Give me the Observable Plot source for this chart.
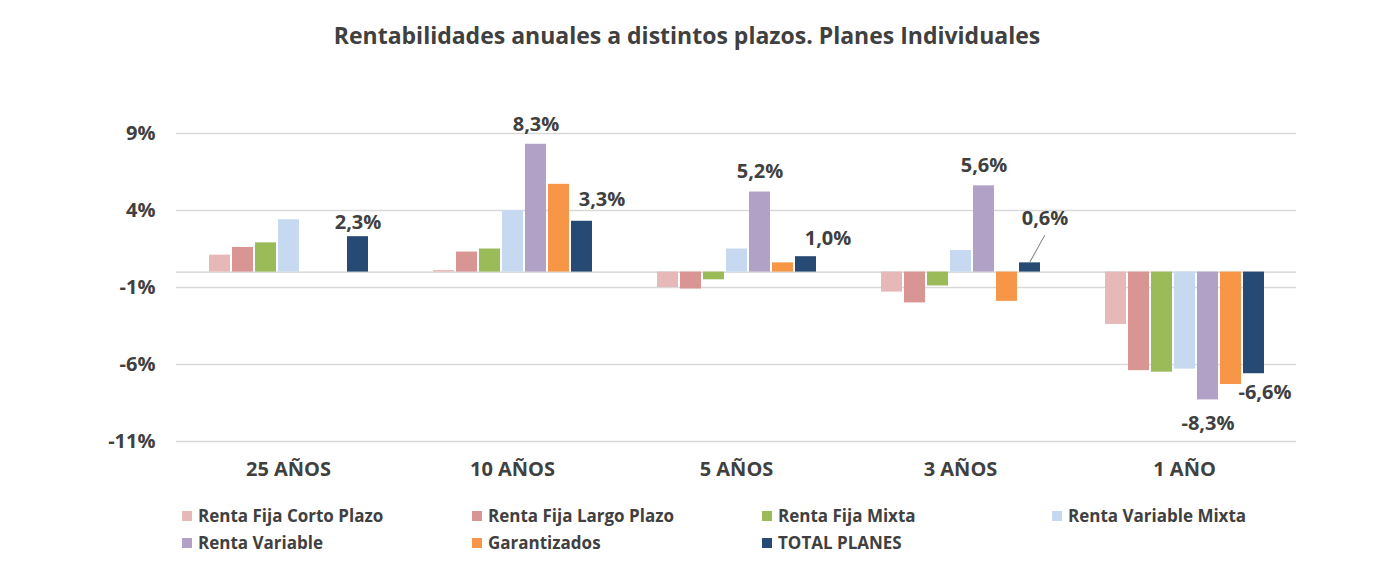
<!DOCTYPE html>
<html>
<head>
<meta charset="utf-8">
<script src="https://cdn.jsdelivr.net/npm/d3@7"></script>
<script src="https://cdn.jsdelivr.net/npm/@observablehq/plot@0.6"></script>
<style>
  html, body { margin: 0; padding: 0; background: #fff; }
  body { width: 1384px; height: 578px; overflow: hidden; font-family: "Open Sans", sans-serif; color: #404040; }
  #title { height: 70px; line-height: 70px; text-align: center; padding-right: 10px; font-size: 23px; font-weight: bold; color: #404040; }
  #chart svg text { font-family: "Open Sans", sans-serif; }
  #legend { display: grid; grid-template-columns: repeat(4, 290px); margin-left: 182px; margin-top: 6px; row-gap: 0; }
  .item { display: flex; align-items: center; height: 27px; font-size: 17px; font-weight: bold; color: #404040; }
  .sw { width: 10px; height: 10px; margin-right: 6px; flex: none; }
</style>
</head>
<body>
<div id="title">Rentabilidades anuales a distintos plazos. Planes Individuales</div>
<div id="chart"></div>
<div id="legend"></div>
<script>
const periods = ["25 AÑOS", "10 AÑOS", "5 AÑOS", "3 AÑOS", "1 AÑO"];
const seriesNames = ["Renta Fija Corto Plazo", "Renta Fija Largo Plazo", "Renta Fija Mixta", "Renta Variable Mixta", "Renta Variable", "Garantizados", "TOTAL PLANES"];
const rentaFijaCortoPlazo = [1.1, 0.1, -1.0, -1.3, -3.4];
const rentaFijaLargoPlazo = [1.6, 1.3, -1.1, -2.0, -6.4];
const rentaFijaMixta = [1.9, 1.5, -0.5, -0.9, -6.5];
const rentaVariableMixta = [3.4, 4.0, 1.5, 1.4, -6.3];
const rentaVariable = [null, 8.3, 5.2, 5.6, -8.3];
const garantizados = [null, 5.7, 0.6, -1.9, -7.3];
const totalPlanes = [2.3, 3.3, 1.0, 0.6, -6.6];
const colors = ["#e6b9b8", "#d99594", "#9bbb59", "#c6d9f1", "#b2a1c7", "#f79646", "#264a74"];
const yTicks = [-11, -6, -1, 4, 9];

const seriesValues = [rentaFijaCortoPlazo, rentaFijaLargoPlazo, rentaFijaMixta, rentaVariableMixta, rentaVariable, garantizados, totalPlanes];
const rows = [];
periods.forEach((p, i) => {
  seriesNames.forEach((s, j) => {
    const v = seriesValues[j][i];
    if (v !== null && v !== undefined) rows.push({period: p, series: s, value: v});
  });
});
const fmt = v => v.toFixed(1).replace(".", ",") + "%";
const RV = "Renta Variable", TOT = "TOTAL PLANES";
const is = (s, p) => d => d.series === s && (Array.isArray(p) ? p.includes(d.period) : d.period === p);
const labelStyle = {x: "series", y: "value", fx: "period", text: d => fmt(d.value), fontSize: 20, fontWeight: "bold", fill: "#404040"};

const chart = Plot.plot({
  width: 1384,
  height: 426,
  marginLeft: 174,
  marginRight: 87,
  marginTop: 63,
  marginBottom: 55,
  style: {fontFamily: "'Open Sans', sans-serif", fontSize: "20px", fontWeight: "bold", color: "#404040", background: "white"},
  fx: {domain: periods, padding: 0, axis: "bottom", label: null, tickSize: 0, tickPadding: 20},
  x: {domain: seriesNames, paddingInner: 0.1, paddingOuter: 1.27, axis: null},
  y: {domain: [-11, 9], ticks: yTicks, tickFormat: d => d + "%", tickSize: 0, tickPadding: 21, label: null},
  color: {domain: seriesNames, range: colors},
  marks: [
    Plot.ruleY(yTicks, {stroke: "#d9d9d9", strokeWidth: 1.3}),
    Plot.ruleY([0], {stroke: "#d0d0d0", strokeWidth: 1.3}),
    Plot.barY(rows, {x: "series", y: "value", fx: "period", fill: "series"}),
    Plot.text(rows, {...labelStyle, filter: is(RV, ["10 AÑOS", "5 AÑOS", "3 AÑOS"]), dy: -20}),
    Plot.text(rows, {...labelStyle, filter: is(TOT, "25 AÑOS"), dy: -14}),
    Plot.text(rows, {...labelStyle, filter: is(TOT, "10 AÑOS"), dy: -22, dx: 20}),
    Plot.text(rows, {...labelStyle, filter: is(TOT, "5 AÑOS"), dy: -18, dx: 22}),
    Plot.text(rows, {...labelStyle, filter: is(TOT, "3 AÑOS"), dy: -44, dx: 15}),
    Plot.vector(rows, {filter: is(TOT, "3 AÑOS"), x: "series", y: "value", fx: "period", anchor: "start", length: 30, rotate: 29, r: 0, stroke: "#808080", strokeWidth: 1, dy: -1}),
    Plot.text(rows, {...labelStyle, filter: is(RV, "1 AÑO"), dy: 24}),
    Plot.text(rows, {...labelStyle, filter: is(TOT, "1 AÑO"), dy: 19, dx: 11})
  ]
});
document.getElementById("chart").appendChild(chart);

const legend = document.getElementById("legend");
seriesNames.forEach((s, i) => {
  const item = document.createElement("div");
  item.className = "item";
  const sw = document.createElement("span");
  sw.className = "sw";
  sw.style.background = colors[i];
  const t = document.createElement("span");
  t.textContent = s;
  item.appendChild(sw);
  item.appendChild(t);
  legend.appendChild(item);
});
</script>
</body>
</html>
